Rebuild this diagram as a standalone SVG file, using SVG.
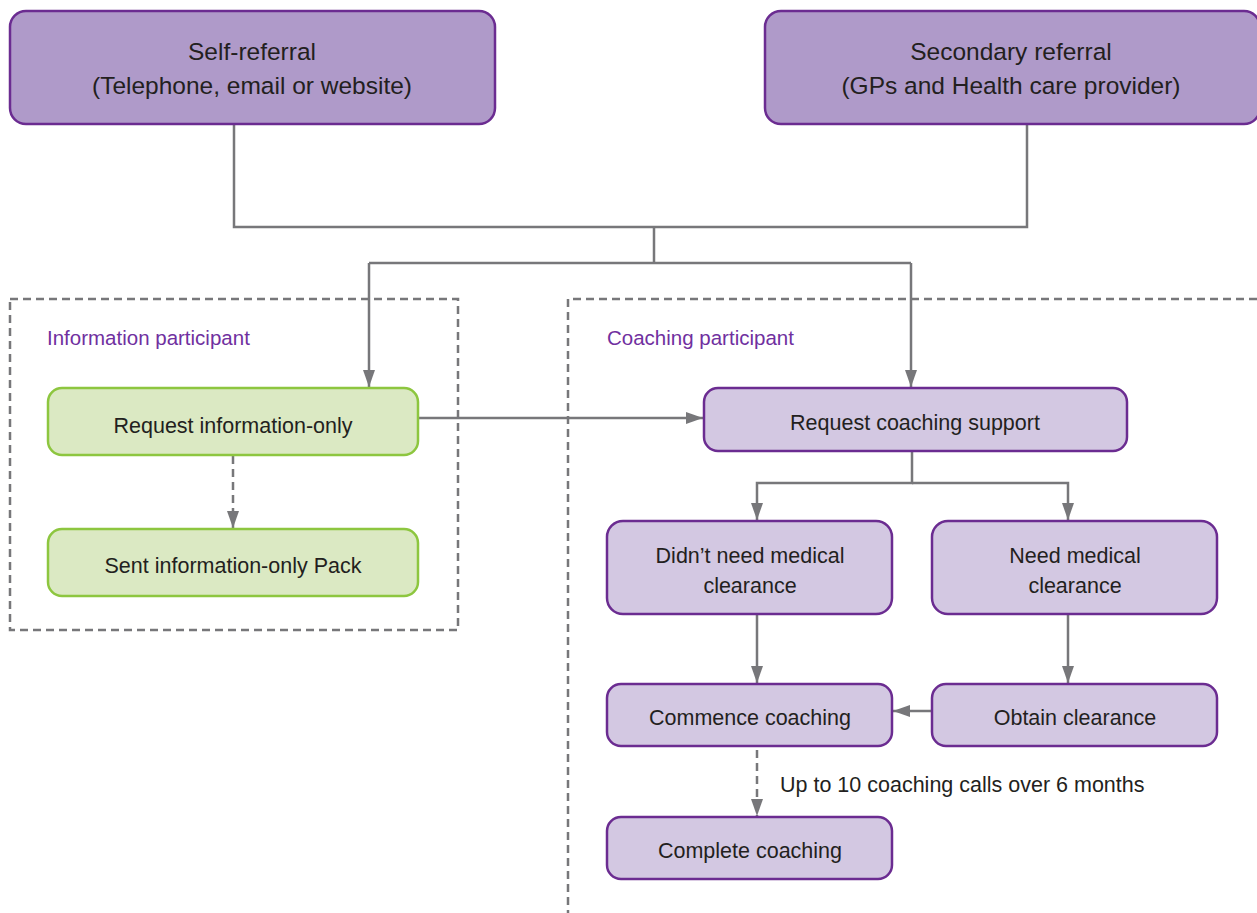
<svg xmlns="http://www.w3.org/2000/svg" width="1257" height="913" viewBox="0 0 1257 913">
<defs>
<marker id="ah" markerWidth="17" markerHeight="12" refX="17" refY="6" orient="auto" markerUnits="userSpaceOnUse" viewBox="0 0 17 12">
<path d="M0,0 L17,6 L0,12 z" fill="#77777a"/>
</marker>
<style>
text{font-family:"Liberation Sans",Arial,sans-serif;fill:#231f20;text-anchor:middle}
.top{fill:#af9ac9;stroke:#6b2c91;stroke-width:2.5}
.pur{fill:#d3c8e2;stroke:#6b2c91;stroke-width:2.5}
.grn{fill:#dbe9c3;stroke:#8dc63f;stroke-width:2.5}
.t1{font-size:24.5px}
.t2{font-size:21.5px}
.lbl{font-size:20.5px;fill:#7030a0;text-anchor:start}
.ln{fill:none;stroke:#77777a;stroke-width:2.5}
.dash{fill:none;stroke:#77777a;stroke-width:2.5;stroke-dasharray:8,5}
</style>
</defs>
<rect width="1257" height="913" fill="#fff"/>
<g id="regions">
<rect class="dash" x="10" y="299" width="448" height="331"/>
<path class="dash" d="M1257,299 H568 V913"/>
<text class="lbl" x="47" y="345">Information participant</text>
<text class="lbl" x="607" y="345">Coaching participant</text>
</g>
<g id="connectors">
<path class="ln" d="M234,124 V227 H1027 V124"/>
<path class="ln" d="M654,227 V263"/>
<path class="ln" d="M369,263 H911"/>
<path class="ln" d="M369,263 V387" marker-end="url(#ah)"/>
<path class="ln" d="M911,263 V387" marker-end="url(#ah)"/>
<path class="dash" d="M233,456 V528" marker-end="url(#ah)"/>
<path class="ln" d="M418,418 H703" marker-end="url(#ah)"/>
<path class="ln" d="M912,451 V483 H757 V520" marker-end="url(#ah)"/>
<path class="ln" d="M912,483 H1068 V520" marker-end="url(#ah)"/>
<path class="ln" d="M757,614 V683" marker-end="url(#ah)"/>
<path class="ln" d="M1068,614 V683" marker-end="url(#ah)"/>
<path class="ln" d="M932,711 H893" marker-end="url(#ah)"/>
<path class="dash" d="M757,750 V816" marker-end="url(#ah)"/>
<text x="780" y="792" style="font-size:21.5px;text-anchor:start">Up to 10 coaching calls over 6 months</text>
</g>
<g id="self-referral">
<rect class="top" x="10" y="11" width="485" height="113" rx="16"/>
<text class="t1" x="252" y="60">Self-referral</text>
<text class="t1" x="252" y="94">(Telephone, email or website)</text>
</g>
<g id="secondary-referral">
<rect class="top" x="765" y="11" width="495" height="113" rx="16"/>
<text class="t1" x="1011" y="60">Secondary referral</text>
<text class="t1" x="1011" y="94">(GPs and Health care provider)</text>
</g>
<g id="request-info">
<rect class="grn" x="48" y="388" width="370" height="67" rx="14"/>
<text class="t2" x="233" y="433">Request information-only</text>
</g>
<g id="sent-info">
<rect class="grn" x="48" y="529" width="370" height="67" rx="14"/>
<text class="t2" x="233" y="573">Sent information-only Pack</text>
</g>
<g id="request-coaching">
<rect class="pur" x="704" y="388" width="423" height="63" rx="14"/>
<text class="t2" x="915" y="430">Request coaching support</text>
</g>
<g id="didnt-need">
<rect class="pur" x="607" y="521" width="285" height="93" rx="16"/>
<text class="t2" x="750" y="563">Didn’t need medical</text>
<text class="t2" x="750" y="593">clearance</text>
</g>
<g id="need">
<rect class="pur" x="932" y="521" width="285" height="93" rx="16"/>
<text class="t2" x="1075" y="563">Need medical</text>
<text class="t2" x="1075" y="593">clearance</text>
</g>
<g id="commence">
<rect class="pur" x="607" y="684" width="285" height="62" rx="14"/>
<text class="t2" x="750" y="725">Commence coaching</text>
</g>
<g id="obtain">
<rect class="pur" x="932" y="684" width="285" height="62" rx="14"/>
<text class="t2" x="1075" y="725">Obtain clearance</text>
</g>
<g id="complete">
<rect class="pur" x="607" y="817" width="285" height="62" rx="14"/>
<text class="t2" x="750" y="858">Complete coaching</text>
</g>
</svg>
